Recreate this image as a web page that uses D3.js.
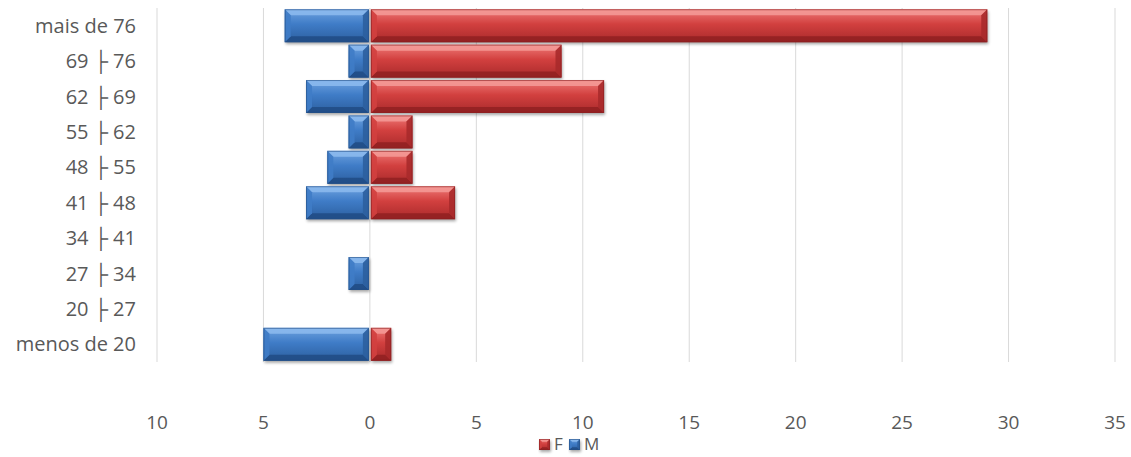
<!DOCTYPE html>
<html>
<head>
<meta charset="utf-8">
<script src="https://cdn.jsdelivr.net/npm/d3@7"></script>
<style>
  body { margin: 0; background: #fff; }
  text { font-family: "Open Sans", Lato, sans-serif; fill: #595959; }
</style>
</head>
<body>
<div id="chart"></div>
<script>
// age groups, top to bottom
const categories = ["mais de 76", "69 \u251C 76", "62 \u251C 69", "55 \u251C 62", "48 \u251C 55",
                    "41 \u251C 48", "34 \u251C 41", "27 \u251C 34", "20 \u251C 27", "menos de 20"];
const femValues  = [29, 9, 11, 2, 2, 4, 0, 0, 0, 1];
const mascValues = [4, 1, 3, 1, 2, 3, 0, 1, 0, 5];
const xTicks = [-10, -5, 0, 5, 10, 15, 20, 25, 30, 35];

const width = 1131, height = 457;
const margin = {top: 8, right: 16, bottom: 95, left: 157};

const svg = d3.select("#chart").append("svg")
    .attr("width", width)
    .attr("height", height);

const defs = svg.append("defs");

// face gradients + bevel colours for each series
const palette = {
    F: {light: "#ef7a78", mid: "#d2403f", dark: "#a92a2b", edge: "#8a2022", top: "#f59b98", bottom: "#8f1f21"},
    M: {light: "#6fa3e0", mid: "#3f7cc7", dark: "#2c5f9f", edge: "#234f86", top: "#8dbbee", bottom: "#1f4a82"}
};
Object.keys(palette).forEach(k => {
    const p = palette[k];
    const g = defs.append("linearGradient").attr("id", "grad" + k)
        .attr("x1", 0).attr("y1", 0).attr("x2", 0).attr("y2", 1);
    g.append("stop").attr("offset", "0%").attr("stop-color", p.light);
    g.append("stop").attr("offset", "45%").attr("stop-color", p.mid);
    g.append("stop").attr("offset", "100%").attr("stop-color", p.dark);
});
const blur = defs.append("filter").attr("id", "shadow")
    .attr("x", "-10%").attr("y", "-20%").attr("width", "130%").attr("height", "160%");
blur.append("feGaussianBlur").attr("stdDeviation", 1.8);

const x = d3.scaleLinear()
    .domain([-10, 35])
    .range([margin.left, width - margin.right]);

const y = d3.scaleBand()
    .domain(categories)
    .range([margin.top, height - margin.bottom])
    .paddingInner(0.07)
    .paddingOuter(0.035);

// gridlines
svg.append("g").selectAll("line")
    .data(xTicks)
    .join("line")
    .attr("x1", d => x(d)).attr("x2", d => x(d))
    .attr("y1", margin.top).attr("y2", height - margin.bottom)
    .attr("stroke", "#d9d9d9")
    .attr("stroke-width", 1);

// x tick labels (absolute values)
svg.append("g").selectAll("text")
    .data(xTicks)
    .join("text")
    .attr("x", d => x(d))
    .attr("y", 429)
    .attr("text-anchor", "middle")
    .style("font-size", "19px")
    .text(d => Math.abs(d));

// category labels
svg.append("g").selectAll("text")
    .data(categories)
    .join("text")
    .attr("x", margin.left - 21)
    .attr("y", d => y(d) + y.bandwidth() / 2)
    .attr("dy", "0.35em")
    .attr("text-anchor", "end")
    .style("font-size", "20px")
    .text(d => d);

// draws a bevelled bar in group g
function bevelBar(g, x0, x1, y0, h, key) {
    const p = palette[key];
    const w = x1 - x0;
    if (w <= 0) return;
    const b = Math.min(6, w / 2, h / 4);
    g.append("rect")
        .attr("x", x0 + 1).attr("y", y0 + 2)
        .attr("width", w).attr("height", h)
        .attr("fill", "#000").attr("opacity", 0.35)
        .attr("filter", "url(#shadow)");
    g.append("rect")
        .attr("x", x0).attr("y", y0)
        .attr("width", w).attr("height", h)
        .attr("fill", "url(#grad" + key + ")");
    const pts = (a) => a.map(q => q.join(",")).join(" ");
    // top bevel
    g.append("polygon")
        .attr("points", pts([[x0, y0], [x1, y0], [x1 - b, y0 + b], [x0 + b, y0 + b]]))
        .attr("fill", p.top).attr("opacity", 0.85);
    // bottom bevel
    g.append("polygon")
        .attr("points", pts([[x0, y0 + h], [x1, y0 + h], [x1 - b, y0 + h - b], [x0 + b, y0 + h - b]]))
        .attr("fill", p.bottom).attr("opacity", 0.8);
    // left / right bevel
    g.append("polygon")
        .attr("points", pts([[x0, y0], [x0 + b, y0 + b], [x0 + b, y0 + h - b], [x0, y0 + h]]))
        .attr("fill", p.mid).attr("opacity", 0.9);
    g.append("polygon")
        .attr("points", pts([[x1, y0], [x1 - b, y0 + b], [x1 - b, y0 + h - b], [x1, y0 + h]]))
        .attr("fill", p.dark).attr("opacity", 0.9);
    g.append("rect")
        .attr("x", x0 + 0.5).attr("y", y0 + 0.5)
        .attr("width", w - 1).attr("height", h - 1)
        .attr("fill", "none").attr("stroke", p.edge).attr("stroke-opacity", 0.6);
}

const bars = svg.append("g");
categories.forEach((c, i) => {
    bevelBar(bars, x(-mascValues[i]), x(0) - 1, y(c), y.bandwidth(), "M");
    bevelBar(bars, x(0) + 1, x(femValues[i]), y(c), y.bandwidth(), "F");
});

// legend
const legend = svg.append("g");
const legendItems = [{k: "F", label: "F", x: 539}, {k: "M", label: "M", x: 569}];
legendItems.forEach(d => {
    const lg = legend.append("g");
    bevelBar(lg, d.x, d.x + 11, 439, 11, d.k);
    legend.append("text")
        .attr("x", d.x + 15)
        .attr("y", 444)
        .attr("dy", "0.35em")
        .style("font-size", "17px")
        .text(d.label);
});
</script>
</body>
</html>
